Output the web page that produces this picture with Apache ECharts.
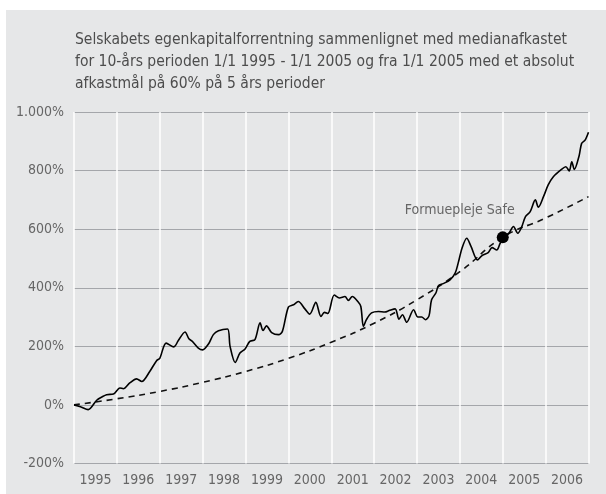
<!DOCTYPE html>
<html>
<head>
<meta charset="utf-8">
<script src="https://cdn.jsdelivr.net/npm/echarts@6/dist/echarts.min.js"></script>
<style>
  html, body { margin: 0; padding: 0; background: #fff; }
  #chart {
    position: absolute;
    left: 6px;
    top: 10px;
    width: 600px;
    height: 484px;
    background: #e6e7e8;
  }
</style>
</head>
<body>
<div id="chart"></div>
<script>
const titleText = 'Selskabets egenkapitalforrentning sammenlignet med medianafkastet\n' +
  'for 10-års perioden 1/1 1995 - 1/1 2005 og fra 1/1 2005 med et absolut\n' +
  'afkastmål på 60% på 5 års perioder';

const yearLabels = ['1995', '1996', '1997', '1998', '1999', '2000',
  '2001', '2002', '2003', '2004', '2005', '2006'];

// selskabets afkast (aflæst), tid i år
const fundYears = [
  1995.00, 1995.15, 1995.33, 1995.53, 1995.65, 1995.76, 1995.92,
  1996.07, 1996.15, 1996.30, 1996.46, 1996.58, 1996.77, 1996.93,
  1997.00, 1997.15, 1997.33, 1997.43, 1997.59, 1997.68, 1997.76, 1997.90,
  1998.00, 1998.14, 1998.25, 1998.37, 1998.58, 1998.64, 1998.76, 1998.87,
  1998.99, 1999.10, 1999.22, 1999.34, 1999.41, 1999.49, 1999.61, 1999.77, 1999.86,
  2000.00, 2000.12, 2000.23, 2000.39, 2000.50, 2000.64, 2000.76, 2000.84, 2000.92,
  2001.07, 2001.19, 2001.32, 2001.40, 2001.49, 2001.62, 2001.69, 2001.75, 2001.82, 2001.94,
  2002.10, 2002.25, 2002.35, 2002.49, 2002.58, 2002.66, 2002.76, 2002.92,
  2003.02, 2003.11, 2003.20, 2003.28, 2003.34, 2003.44, 2003.50, 2003.61, 2003.77, 2003.89, 2003.96,
  2004.05, 2004.16, 2004.26, 2004.41, 2004.51, 2004.66, 2004.75, 2004.86, 2004.94,
  2005.04, 2005.15, 2005.25, 2005.35, 2005.44, 2005.53, 2005.64, 2005.76, 2005.83, 2005.95,
  2006.06, 2006.18, 2006.37, 2006.47, 2006.55, 2006.61, 2006.67, 2006.78, 2006.84, 2006.92, 2007.00
];
const fundValues = [
  0, -6, -16, 16, 27, 35, 37,
  58, 55, 75, 89, 80, 115, 152,
  159, 211, 198, 219, 249, 226, 217, 194,
  188, 209, 240, 253, 259, 200, 145, 177,
  191, 217, 223, 280, 254, 270, 247, 240, 251,
  334, 342, 353, 327, 310, 350, 302, 316, 312,
  375, 365, 370, 357, 370, 353, 336, 268, 291, 314,
  319, 317, 322, 328, 293, 308, 282, 325,
  300, 300, 291, 304, 359, 382, 407, 414, 427, 450, 484,
  535, 569, 541, 495, 509, 520, 537, 529, 552,
  573, 588, 609, 586, 607, 643, 660, 700, 675, 711,
  751, 779, 804, 813, 799, 830, 804, 850, 893, 904, 931
];

// medianafkast / afkastmål (aflæst)
const medianYears = [1995, 1996, 1997, 1998, 1999, 2000, 2001, 2002, 2003, 2004, 2005, 2006, 2007];
const medianValues = [0, 21, 46, 77, 114, 159, 214, 279, 359, 455, 572, 638, 711];

const safePoint = [2005.0, 572];
const safeLabel = 'Formuepleje Safe';

const FONT = "'Liberation Sans Narrow', 'DejaVu Sans Condensed', sans-serif";

const chart = echarts.init(document.getElementById('chart'));

const option = {
  animation: false,
  title: {
    text: titleText,
    left: 69,
    top: 19,
    padding: 0,
    textStyle: {
      fontFamily: FONT,
      fontSize: 15.5,
      fontWeight: 'normal',
      color: '#4d4d4d',
      lineHeight: 22
    }
  },
  grid: {
    left: 68,
    right: 17.5,
    top: 102,
    bottom: 30.5
  },
  xAxis: [
    {
      type: 'category',
      data: yearLabels,
      boundaryGap: true,
      axisLine: { show: false },
      axisTick: { show: false, interval: 0 },
      axisLabel: {
        interval: 0,
        fontFamily: FONT,
        fontSize: 14,
        color: '#666',
        margin: 10
      },
      splitLine: {
        show: true,
        interval: 0,
        lineStyle: { color: '#ffffff', width: 1.5 }
      }
    },
    {
      type: 'value',
      min: 1995,
      max: 2007,
      show: false
    }
  ],
  yAxis: {
    type: 'value',
    min: -200,
    max: 1000,
    interval: 200,
    axisLine: { show: false },
    axisTick: { show: false },
    axisLabel: {
      fontFamily: FONT,
      fontSize: 14,
      color: '#666',
      margin: 10,
      formatter: function (v) {
        return String(v).replace(/\B(?=(\d{3})+(?!\d))/g, '.') + '%';
      }
    },
    splitLine: {
      lineStyle: { color: '#a4a6aa', width: 1.2 }
    }
  },
  series: [
    {
      name: 'Median',
      type: 'line',
      xAxisIndex: 1,
      data: medianYears.map((t, i) => [t, medianValues[i]]),
      showSymbol: false,
      smooth: true,
      lineStyle: { color: '#111', width: 1.6, type: [6, 5] },
      z: 3
    },
    {
      name: 'Selskabet',
      type: 'line',
      xAxisIndex: 1,
      data: fundYears.map((t, i) => [t, fundValues[i]]),
      showSymbol: false,
      smooth: 0.3,
      lineStyle: { color: '#000', width: 1.6 },
      z: 4
    },
    {
      name: safeLabel,
      type: 'scatter',
      xAxisIndex: 1,
      data: [safePoint],
      symbolSize: 12,
      itemStyle: { color: '#000', opacity: 1 },
      label: {
        show: true,
        formatter: safeLabel,
        position: 'top',
        distance: 0,
        offset: [-43, -14],
        fontFamily: FONT,
        fontSize: 14,
        color: '#666'
      },
      z: 5
    }
  ]
};

chart.setOption(option);
</script>
</body>
</html>
